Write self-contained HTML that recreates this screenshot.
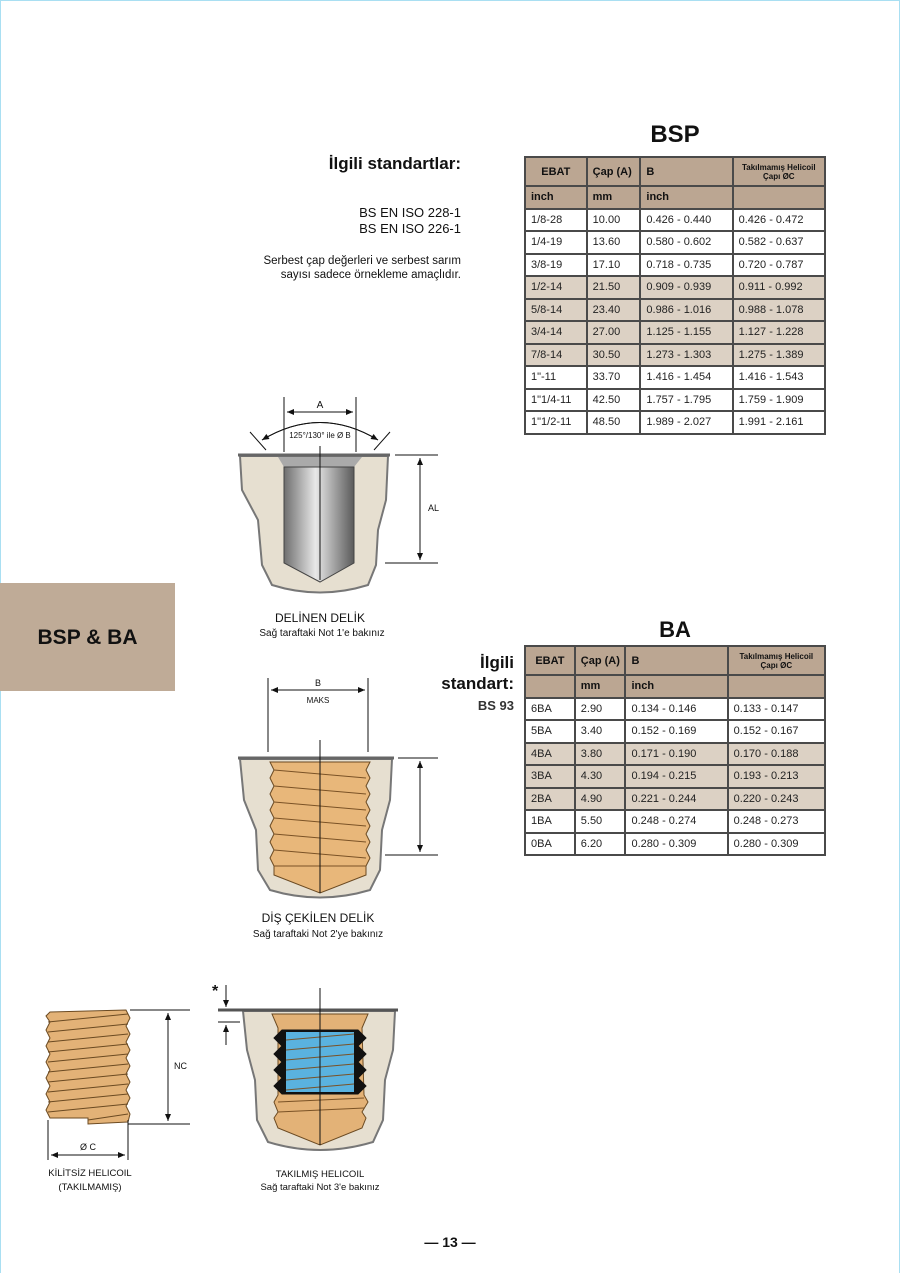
<!DOCTYPE html>
<html><head><meta charset="utf-8"><style>
html,body{margin:0;padding:0}
body{width:900px;height:1274px;position:relative;background:#fff;font-family:"Liberation Sans",Arial,sans-serif;color:#111;overflow:hidden}
.frame{position:absolute;left:0;top:0;width:898px;height:1272px;border:1px solid #a9dff2;border-bottom:none}
.t{position:absolute;white-space:nowrap}
table{position:absolute;border-collapse:collapse;font-size:11px;color:#222}
td{border:2px solid #4a4a4a;padding:0 0 0 5px;height:20.5px;line-height:18px}
tr.h td{background:#bba692;font-weight:bold;color:#111}
tr.s td{background:#dcd1c4}
.sm{font-size:8px;text-align:center;line-height:9px;padding:0}
</style></head><body>
<div class="frame"></div>

<div class="t" style="left:0;top:583px;width:175px;height:108px;background:#bfab97"></div>
<div class="t" style="left:0;top:626px;width:175px;text-align:center;font-weight:bold;font-size:21px">BSP &amp; BA</div>

<div class="t" style="right:439px;top:154px;font-weight:bold;font-size:17px">İlgili standartlar:</div>
<div class="t" style="right:439px;top:205px;font-size:13px;text-align:right;line-height:16px">BS EN ISO 228-1<br>BS EN ISO 226-1</div>
<div class="t" style="right:439px;top:254px;font-size:11.5px;text-align:right;line-height:14px">Serbest çap değerleri ve serbest sarım<br>sayısı sadece örnekleme amaçlıdır.</div>

<div class="t" style="left:524px;width:302px;top:121px;text-align:center;font-weight:bold;font-size:24px">BSP</div>
<table style="left:524px;top:156px;width:302px">
<colgroup><col style="width:62px"><col style="width:54px"><col style="width:93px"><col style="width:93px"></colgroup>
<tr class="h"><td style="height:27px;padding:0;text-align:center">EBAT</td><td>Çap (A)</td><td>B</td><td class="sm">Takılmamış Helicoil<br>Çapı ØC</td></tr>
<tr class="h"><td>inch</td><td>mm</td><td>inch</td><td></td></tr>
<tr><td>1/8-28</td><td>10.00</td><td>0.426 - 0.440</td><td>0.426 - 0.472</td></tr>
<tr><td>1/4-19</td><td>13.60</td><td>0.580 - 0.602</td><td>0.582 - 0.637</td></tr>
<tr><td>3/8-19</td><td>17.10</td><td>0.718 - 0.735</td><td>0.720 - 0.787</td></tr>
<tr class="s"><td>1/2-14</td><td>21.50</td><td>0.909 - 0.939</td><td>0.911 - 0.992</td></tr>
<tr class="s"><td>5/8-14</td><td>23.40</td><td>0.986 - 1.016</td><td>0.988 - 1.078</td></tr>
<tr class="s"><td>3/4-14</td><td>27.00</td><td>1.125 - 1.155</td><td>1.127 - 1.228</td></tr>
<tr class="s"><td>7/8-14</td><td>30.50</td><td>1.273 - 1.303</td><td>1.275 - 1.389</td></tr>
<tr><td>1"-11</td><td>33.70</td><td>1.416 - 1.454</td><td>1.416 - 1.543</td></tr>
<tr><td>1"1/4-11</td><td>42.50</td><td>1.757 - 1.795</td><td>1.759 - 1.909</td></tr>
<tr><td>1"1/2-11</td><td>48.50</td><td>1.989 - 2.027</td><td>1.991 - 2.161</td></tr>
</table>

<div class="t" style="left:524px;width:302px;top:617px;text-align:center;font-weight:bold;font-size:22px">BA</div>
<div class="t" style="right:386px;top:652px;font-weight:bold;font-size:17px;text-align:right;line-height:21px">İlgili<br>standart:</div>
<div class="t" style="right:386px;top:698px;font-weight:bold;font-size:13px;color:#333">BS 93</div>
<table style="left:524px;top:645px;width:302px">
<colgroup><col style="width:50px"><col style="width:51px"><col style="width:103px"><col style="width:98px"></colgroup>
<tr class="h"><td style="height:27px;padding:0;text-align:center">EBAT</td><td>Çap (A)</td><td>B</td><td class="sm">Takılmamış Helicoil<br>Çapı ØC</td></tr>
<tr class="h"><td></td><td>mm</td><td>inch</td><td></td></tr>
<tr><td>6BA</td><td>2.90</td><td>0.134 - 0.146</td><td>0.133 - 0.147</td></tr>
<tr><td>5BA</td><td>3.40</td><td>0.152 - 0.169</td><td>0.152 - 0.167</td></tr>
<tr class="s"><td>4BA</td><td>3.80</td><td>0.171 - 0.190</td><td>0.170 - 0.188</td></tr>
<tr class="s"><td>3BA</td><td>4.30</td><td>0.194 - 0.215</td><td>0.193 - 0.213</td></tr>
<tr class="s"><td>2BA</td><td>4.90</td><td>0.221 - 0.244</td><td>0.220 - 0.243</td></tr>
<tr><td>1BA</td><td>5.50</td><td>0.248 - 0.274</td><td>0.248 - 0.273</td></tr>
<tr><td>0BA</td><td>6.20</td><td>0.280 - 0.309</td><td>0.280 - 0.309</td></tr>
</table>

<svg class="t" style="left:0;top:0" width="900" height="1274" viewBox="0 0 900 1274" font-family="Liberation Sans, Arial, sans-serif">
<defs>
<linearGradient id="cyl" x1="0" x2="1"><stop offset="0" stop-color="#6e6e6e"/><stop offset=".45" stop-color="#e8e8e8"/><stop offset="1" stop-color="#5a5a5a"/></linearGradient>
<marker id="ar" markerWidth="8" markerHeight="8" refX="7" refY="4" orient="auto"><path d="M0,1 L7,4 L0,7z" fill="#111"/></marker>
</defs>
<g stroke="#111" stroke-width="1" fill="none">
<path d="M240,456 L388,456 L386,500 L378,530 L376,565 L368,585 Q320,600 272,585 L262,565 L258,520 L242,490 Z" fill="#e6dfd0" stroke="#777" stroke-width="2"/>
<line x1="238" y1="455" x2="390" y2="455" stroke="#666" stroke-width="3"/>
<path d="M278,457 L362,457 L354,467 L284,467 Z" fill="#aaa" stroke="none"/>
<path d="M284,467 L354,467 L354,563 L320,582 L284,563 Z" fill="url(#cyl)" stroke="#444"/>
<line x1="320" y1="446" x2="320" y2="580"/>
<line x1="284" y1="397" x2="284" y2="452"/><line x1="356" y1="397" x2="356" y2="452"/>
<line x1="287" y1="412" x2="353" y2="412" marker-end="url(#ar)"/>
<line x1="353" y1="412" x2="287" y2="412" marker-end="url(#ar)"/>
<path d="M262,440 Q320,405 378,440" marker-end="url(#ar)"/>
<path d="M378,440 Q320,405 262,440" marker-end="url(#ar)"/>
<line x1="250" y1="432" x2="266" y2="450"/><line x1="390" y1="432" x2="374" y2="450"/>
<line x1="395" y1="455" x2="438" y2="455"/><line x1="385" y1="563" x2="438" y2="563"/>
<line x1="420" y1="458" x2="420" y2="560" marker-end="url(#ar)"/>
<line x1="420" y1="560" x2="420" y2="458" marker-end="url(#ar)"/>
<path d="M240,759 L392,759 L390,800 L382,830 L380,870 L370,890 Q320,905 270,890 L258,870 L256,830 L244,800 Z" fill="#e6dfd0" stroke="#777" stroke-width="2"/>
<line x1="238" y1="758" x2="394" y2="758" stroke="#666" stroke-width="3"/>
<path d="M270,762 L370,762 L366,770 L370,778 L366,786 L370,794 L366,802 L370,810 L366,818 L370,826 L366,834 L370,842 L366,850 L370,858 L366,866 L366,875 L320,893 L274,875 L274,866 L270,858 L274,850 L270,842 L274,834 L270,826 L274,818 L270,810 L274,802 L270,794 L274,786 L270,778 L274,770 Z" fill="#e8b77a" stroke="#6b4a22"/>
<g stroke="#7a5226"><line x1="274" y1="770" x2="366" y2="778"/><line x1="274" y1="786" x2="366" y2="794"/><line x1="274" y1="802" x2="366" y2="810"/><line x1="274" y1="818" x2="366" y2="826"/><line x1="274" y1="834" x2="366" y2="842"/><line x1="274" y1="850" x2="366" y2="858"/><line x1="274" y1="866" x2="366" y2="866"/></g>
<line x1="320" y1="740" x2="320" y2="893"/>
<line x1="268" y1="678" x2="268" y2="752"/><line x1="368" y1="678" x2="368" y2="752"/>
<line x1="271" y1="690" x2="365" y2="690" marker-end="url(#ar)"/><line x1="365" y1="690" x2="271" y2="690" marker-end="url(#ar)"/>
<line x1="398" y1="758" x2="438" y2="758"/><line x1="385" y1="855" x2="438" y2="855"/>
<line x1="420" y1="761" x2="420" y2="852" marker-end="url(#ar)"/><line x1="420" y1="852" x2="420" y2="761" marker-end="url(#ar)"/>
<path d="M50,1012 L126,1010 L130,1018 L126,1026 L130,1034 L126,1042 L130,1050 L126,1058 L130,1066 L126,1074 L130,1082 L126,1090 L130,1098 L126,1106 L130,1114 L128,1122 L88,1124 L88,1118 L50,1118 L46,1110 L50,1102 L46,1094 L50,1086 L46,1078 L50,1070 L46,1062 L50,1054 L46,1046 L50,1038 L46,1030 L50,1022 L46,1016 Z" fill="#e3b277" stroke="#6b4a22"/>
<g stroke="#6b4a22"><line x1="48" y1="1022" x2="128" y2="1014"/><line x1="48" y1="1032" x2="128" y2="1024"/><line x1="48" y1="1042" x2="128" y2="1034"/><line x1="48" y1="1052" x2="128" y2="1044"/><line x1="48" y1="1062" x2="128" y2="1054"/><line x1="48" y1="1072" x2="128" y2="1064"/><line x1="48" y1="1082" x2="128" y2="1074"/><line x1="48" y1="1092" x2="128" y2="1084"/><line x1="48" y1="1102" x2="128" y2="1094"/><line x1="48" y1="1112" x2="128" y2="1104"/><line x1="88" y1="1120" x2="128" y2="1114"/></g>
<line x1="130" y1="1010" x2="190" y2="1010"/><line x1="128" y1="1124" x2="190" y2="1124"/>
<line x1="168" y1="1013" x2="168" y2="1121" marker-end="url(#ar)"/><line x1="168" y1="1121" x2="168" y2="1013" marker-end="url(#ar)"/>
<line x1="48" y1="1120" x2="48" y2="1160"/><line x1="128" y1="1120" x2="128" y2="1160"/>
<line x1="51" y1="1155" x2="125" y2="1155" marker-end="url(#ar)"/><line x1="125" y1="1155" x2="51" y2="1155" marker-end="url(#ar)"/>
<path d="M243,1011 L395,1011 L393,1050 L385,1080 L383,1120 L373,1142 Q320,1158 268,1142 L257,1120 L255,1080 L247,1050 Z" fill="#e6dfd0" stroke="#777" stroke-width="2"/>
<line x1="218" y1="1010" x2="398" y2="1010" stroke="#555" stroke-width="3"/>
<line x1="218" y1="1022" x2="240" y2="1022"/>
<path d="M272,1014 L368,1014 L362,1028 L364,1095 L368,1102 L362,1112 L366,1118 L362,1128 L320,1145 L278,1128 L274,1118 L278,1112 L274,1102 L278,1095 L278,1028 Z" fill="#e3b277" stroke="#6b4a22"/>
<path d="M282,1030 L358,1030 L366,1038 L358,1046 L366,1054 L358,1062 L366,1070 L358,1078 L366,1086 L358,1094 L282,1094 L274,1086 L282,1078 L274,1070 L282,1062 L274,1054 L282,1046 L274,1038 Z" fill="#111"/>
<rect x="286" y="1032" width="68" height="60" fill="#5ab2df" stroke="none"/>
<g stroke="#7a5226"><line x1="286" y1="1040" x2="354" y2="1034"/><line x1="286" y1="1050" x2="354" y2="1044"/><line x1="286" y1="1060" x2="354" y2="1054"/><line x1="286" y1="1070" x2="354" y2="1064"/><line x1="286" y1="1080" x2="354" y2="1074"/><line x1="286" y1="1090" x2="354" y2="1084"/><line x1="278" y1="1102" x2="364" y2="1098"/><line x1="278" y1="1112" x2="364" y2="1108"/></g>
<line x1="320" y1="988" x2="320" y2="1145"/>
<line x1="226" y1="985" x2="226" y2="1007" marker-end="url(#ar)"/>
<line x1="226" y1="1045" x2="226" y2="1025" marker-end="url(#ar)"/>
</g>
<g fill="#111" font-size="9">
<text x="320" y="408" text-anchor="middle" font-size="10">A</text>
<text x="320" y="438" text-anchor="middle" font-size="8">125°/130° ile Ø B</text>
<text x="428" y="511" font-size="9">AL</text>
<text x="318" y="686" text-anchor="middle">B</text>
<text x="318" y="703" text-anchor="middle" font-size="8">MAKS</text>
<text x="174" y="1069" font-size="9">NC</text>
<text x="88" y="1150" text-anchor="middle">Ø C</text>
<text x="212" y="996" font-size="16" font-weight="bold">*</text>
</g>
<g fill="#111" text-anchor="middle">
<text x="320" y="622" font-size="12">DELİNEN DELİK</text>
<text x="322" y="636" font-size="10">Sağ taraftaki Not 1'e bakınız</text>
<text x="318" y="922" font-size="12">DİŞ ÇEKİLEN DELİK</text>
<text x="318" y="937" font-size="10">Sağ taraftaki Not 2'ye bakınız</text>
<text x="90" y="1176" font-size="9.5">KİLİTSİZ HELICOIL</text>
<text x="90" y="1190" font-size="9.5">(TAKILMAMIŞ)</text>
<text x="320" y="1177" font-size="9.5">TAKILMIŞ HELICOIL</text>
<text x="320" y="1190" font-size="9.5">Sağ taraftaki Not 3'e bakınız</text>
<text x="450" y="1247" font-size="14" font-weight="bold">— 13 —</text>
</g>
</svg>
</body></html>
